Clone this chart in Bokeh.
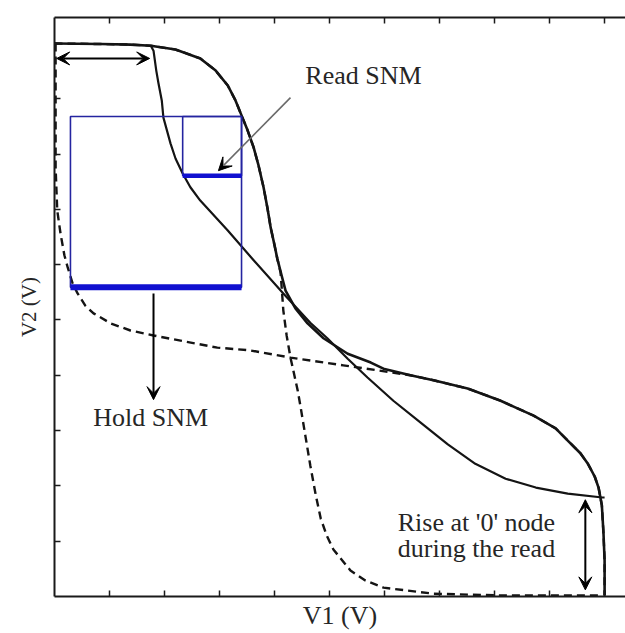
import numpy as np
from bokeh.plotting import figure
from bokeh.models import Range1d, LinearAxis, FixedTicker, Arrow, VeeHead, Label
from bokeh.embed import file_html
from bokeh.resources import INLINE

# ---------------- data (V) ----------------
# outer solid curve
curveA_v1 = [0.000, 0.084, 0.138, 0.175, 0.220, 0.265, 0.293, 0.315, 0.329, 0.340, 0.351, 0.362,
             0.371, 0.380, 0.387, 0.393, 0.400, 0.405, 0.413, 0.420, 0.438, 0.460, 0.489, 0.533,
             0.575, 0.598, 0.647, 0.689, 0.751, 0.811, 0.871, 0.911, 0.933, 0.956, 0.969, 0.982,
             0.989, 0.995, 0.998, 1.000, 1.000]
curveA_v2 = [1.000, 0.999, 0.998, 0.996, 0.989, 0.973, 0.951, 0.924, 0.897, 0.870, 0.843, 0.812,
             0.779, 0.740, 0.703, 0.667, 0.635, 0.611, 0.580, 0.553, 0.521, 0.494, 0.467, 0.439,
             0.423, 0.412, 0.400, 0.391, 0.376, 0.354, 0.327, 0.304, 0.282, 0.259, 0.241, 0.217,
             0.197, 0.165, 0.114, 0.065, 0.002]
# inner solid curve (read)
curveB_v1 = [0.175, 0.180, 0.185, 0.189, 0.195, 0.198, 0.211, 0.220, 0.233, 0.247, 0.265, 0.315,
             0.362, 0.416, 0.465, 0.496, 0.533, 0.569, 0.616, 0.665, 0.715, 0.765, 0.820, 0.875,
             0.933, 0.996, 1.000]
curveB_v2 = [0.996, 0.987, 0.951, 0.928, 0.897, 0.866, 0.819, 0.792, 0.765, 0.740, 0.716, 0.662,
             0.608, 0.548, 0.495, 0.467, 0.430, 0.396, 0.354, 0.315, 0.275, 0.240, 0.213, 0.197,
             0.186, 0.179, 0.179]
# dashed curve 1 (hold), own part; continues along the outer curve tail
hold1_v1 = [0.002, 0.002, 0.002, 0.005, 0.011, 0.018, 0.024, 0.033, 0.042, 0.056, 0.071, 0.102,
            0.138, 0.180, 0.296, 0.356, 0.429, 0.525, 0.587]
hold1_v2 = [1.000, 0.861, 0.776, 0.698, 0.656, 0.617, 0.595, 0.566, 0.548, 0.526, 0.512, 0.494,
            0.481, 0.472, 0.450, 0.445, 0.432, 0.418, 0.409]
# dashed curve 2 (hold), own part; starts along the outer curve head
hold2_v1 = [0.411, 0.416, 0.422, 0.429, 0.442, 0.447, 0.456, 0.465, 0.475, 0.484, 0.495, 0.507,
            0.538, 0.565, 0.598, 0.689, 0.811, 0.993]
hold2_v2 = [0.586, 0.517, 0.472, 0.432, 0.373, 0.345, 0.291, 0.237, 0.183, 0.141, 0.110, 0.085,
            0.047, 0.029, 0.016, 0.005, 0.002, 0.002]

# SNM squares
hold_box = dict(left=0.029, right=0.340, bottom=0.559, top=0.868)
read_box = dict(left=0.233, right=0.340, bottom=0.761, top=0.868)

ticks = [0.1, 0.2, 0.3, 0.4, 0.5, 0.6, 0.7, 0.8, 0.9, 1.0]

# ---------------- figure ----------------
p = figure(width=625, height=633, x_range=Range1d(0, 1.038), y_range=Range1d(0, 1.047),
           output_backend="svg", toolbar_location=None,
           min_border_left=54, min_border_right=0, min_border_top=17, min_border_bottom=37,
           outline_line_color=None, background_fill_color="white", border_fill_color="white")
p.grid.visible = False

top_axis = LinearAxis()
p.add_layout(top_axis, "above")
for ax in list(p.xaxis) + list(p.yaxis):
    ax.ticker = FixedTicker(ticks=ticks)
    ax.major_label_overrides = {t: "" for t in ticks}
    ax.major_tick_in = 6
    ax.major_tick_out = 0
    ax.minor_tick_line_color = None
    ax.major_label_text_font_size = "0px"
    ax.major_label_standoff = 0
    ax.axis_line_width = 2
    ax.axis_line_color = "#1a1a1a"
    ax.major_tick_line_width = 1.5
    ax.major_tick_line_color = "#1a1a1a"

font = "Liberation Serif"
txt = "#262626"
xa = p.below[0]
xa.axis_label = "V1 (V)"
xa.axis_label_text_font = font
xa.axis_label_text_font_size = "26px"
xa.axis_label_text_font_style = "normal"
xa.axis_label_text_color = txt
xa.axis_label_standoff = 4
ya = p.left[0]
ya.axis_label = "V2 (V)"
ya.axis_label_text_font = font
ya.axis_label_text_font_size = "21px"
ya.axis_label_text_font_style = "normal"
ya.axis_label_text_color = txt
ya.axis_label_standoff = 14

ink = "#141414"
# dashed hold curves
n_head = curveA_v1.index(0.405) + 1
h2x = curveA_v1[:n_head] + hold2_v1
h2y = curveA_v2[:n_head] + hold2_v2
n_tail = curveA_v1.index(0.647)
h1x = hold1_v1 + curveA_v1[n_tail:]
h1y = hold1_v2 + curveA_v2[n_tail:]
p.line(h1x, h1y, line_color=ink, line_width=2.4, line_dash="8 5")
p.line(h2x, h2y, line_color=ink, line_width=2.4, line_dash="8 5")

# solid read curves
p.line(curveA_v1, curveA_v2, line_color=ink, line_width=2.6, line_join="round")
p.line(curveB_v1, curveB_v2, line_color=ink, line_width=2.2, line_join="round")

# SNM boxes
thin_blue = "#2424a0"
thick_blue = "#1010d0"
for b in (hold_box, read_box):
    p.quad(left=[b["left"]], right=[b["right"]], bottom=[b["bottom"]], top=[b["top"]],
           fill_color=None, line_color=thin_blue, line_width=1.6)
p.segment(x0=[hold_box["left"]], x1=[hold_box["right"]], y0=[hold_box["bottom"]], y1=[hold_box["bottom"]],
          line_color=thick_blue, line_width=6)
p.segment(x0=[read_box["left"]], x1=[read_box["right"]], y0=[read_box["bottom"]], y1=[read_box["bottom"]],
          line_color=thick_blue, line_width=4.5)

# arrows
def head():
    return VeeHead(size=13, fill_color="black", line_color="black", line_width=1)

p.add_layout(Arrow(start=head(), end=head(), x_start=0.004, y_start=0.973, x_end=0.173, y_end=0.973,
                   line_color="black", line_width=2))
p.add_layout(Arrow(end=head(), x_start=0.429, y_start=0.902, x_end=0.298, y_end=0.770,
                   line_color="#6a6a6a", line_width=1.6))
p.add_layout(Arrow(end=head(), x_start=0.180, y_start=0.548, x_end=0.180, y_end=0.356,
                   line_color="black", line_width=2))
p.add_layout(Arrow(start=head(), end=head(), x_start=0.965, y_start=0.175, x_end=0.965, y_end=0.012,
                   line_color="black", line_width=2))

# texts
p.add_layout(Label(x=0.456, y=0.942, text="Read SNM", text_font=font, text_font_size="26px",
                   text_color=txt, text_align="left", text_baseline="middle"))
p.add_layout(Label(x=0.175, y=0.324, text="Hold SNM", text_font=font, text_font_size="26px",
                   text_color=txt, text_align="center", text_baseline="middle"))
p.add_layout(Label(x=0.624, y=0.134, text="Rise at '0' node", text_font=font, text_font_size="26px",
                   text_color=txt, text_align="left", text_baseline="middle"))
p.add_layout(Label(x=0.624, y=0.087, text="during the read", text_font=font, text_font_size="26px",
                   text_color=txt, text_align="left", text_baseline="middle"))

open("out.html", "w").write(file_html(p, INLINE))
